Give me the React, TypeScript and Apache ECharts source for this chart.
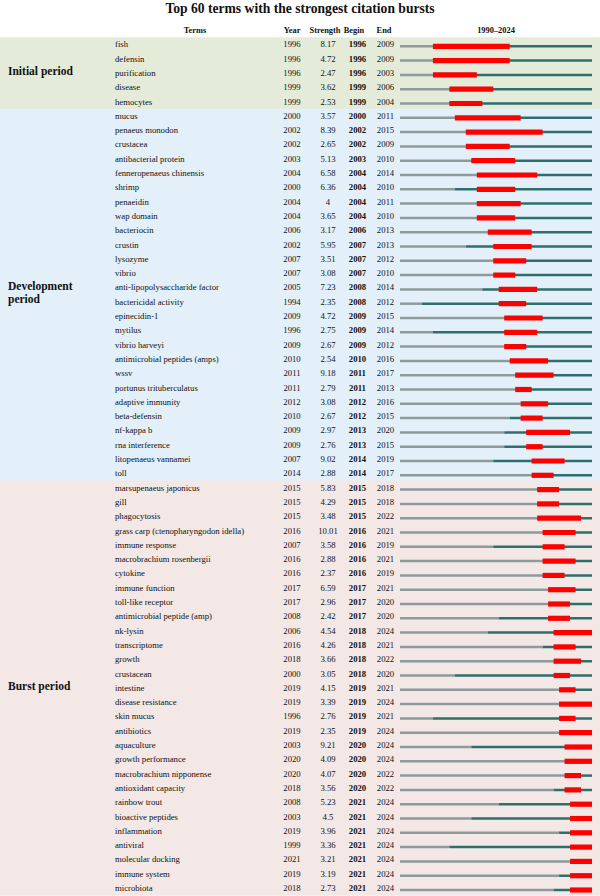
import React, { useEffect, useRef } from "react";
import * as echarts from "echarts";

const terms = [
  "fish", "defensin", "purification", "disease", "hemocytes",
  "mucus", "penaeus monodon", "crustacea", "antibacterial protein", "fenneropenaeus chinensis",
  "shrimp", "penaeidin", "wap domain", "bacteriocin", "crustin", "lysozyme", "vibrio",
  "anti-lipopolysaccharide factor", "bactericidal activity", "epinecidin-1", "mytilus",
  "vibrio harveyi", "antimicrobial peptides (amps)", "wssv", "portunus trituberculatus",
  "adaptive immunity", "beta-defensin", "nf-kappa b", "rna interference", "litopenaeus vannamei", "toll",
  "marsupenaeus japonicus", "gill", "phagocytosis", "grass carp (ctenopharyngodon idella)",
  "immune response", "macrobrachium rosenbergii", "cytokine", "immune function", "toll-like receptor",
  "antimicrobial peptide (amp)", "nk-lysin", "transcriptome", "growth", "crustacean", "intestine",
  "disease resistance", "skin mucus", "antibiotics", "aquaculture", "growth performance",
  "macrobrachium nipponense", "antioxidant capacity", "rainbow trout", "bioactive peptides",
  "inflammation", "antiviral", "molecular docking", "immune system", "microbiota",
];

const years = [
  1996, 1996, 1996, 1999, 1999,
  2000, 2002, 2002, 2003, 2004, 2000, 2004, 2004, 2006, 2002, 2007, 2007,
  2005, 1994, 2009, 1996, 2009, 2010, 2011, 2011, 2012, 2010, 2009, 2009, 2007, 2014,
  2015, 2015, 2015, 2016, 2007, 2016, 2016, 2017, 2017, 2008, 2006, 2016, 2018, 2000, 2019,
  2019, 1996, 2019, 2003, 2020, 2020, 2018, 2008, 2003, 2019, 1999, 2021, 2019, 2018,
];

const strengths = [
  8.17, 4.72, 2.47, 3.62, 2.53,
  3.57, 8.39, 2.65, 5.13, 6.58, 6.36, 4, 3.65, 3.17, 5.95, 3.51, 3.08,
  7.23, 2.35, 4.72, 2.75, 2.67, 2.54, 9.18, 2.79, 3.08, 2.67, 2.97, 2.76, 9.02, 2.88,
  5.83, 4.29, 3.48, 10.01, 3.58, 2.88, 2.37, 6.59, 2.96, 2.42, 4.54, 4.26, 3.66, 3.05, 4.15,
  3.39, 2.76, 2.35, 9.21, 4.09, 4.07, 3.56, 5.23, 4.5, 3.96, 3.36, 3.21, 3.19, 2.73,
];

const begins = [
  1996, 1996, 1996, 1999, 1999,
  2000, 2002, 2002, 2003, 2004, 2004, 2004, 2004, 2006, 2007, 2007, 2007,
  2008, 2008, 2009, 2009, 2009, 2010, 2011, 2011, 2012, 2012, 2013, 2013, 2014, 2014,
  2015, 2015, 2015, 2016, 2016, 2016, 2016, 2017, 2017, 2017, 2018, 2018, 2018, 2018, 2019,
  2019, 2019, 2019, 2020, 2020, 2020, 2020, 2021, 2021, 2021, 2021, 2021, 2021, 2021,
];

const ends = [
  2009, 2009, 2003, 2006, 2004,
  2011, 2015, 2009, 2010, 2014, 2010, 2011, 2010, 2013, 2013, 2012, 2010,
  2014, 2012, 2015, 2014, 2012, 2016, 2017, 2013, 2016, 2015, 2020, 2015, 2019, 2017,
  2018, 2018, 2022, 2021, 2019, 2021, 2019, 2021, 2020, 2020, 2024, 2021, 2022, 2020, 2021,
  2024, 2021, 2024, 2024, 2024, 2022, 2022, 2024, 2024, 2024, 2024, 2024, 2024, 2024,
];

const periodNames = ["Initial period", "Development period", "Burst period"];
const periodSizes = [5, 26, 29];
const headerLabels = ["Terms", "Year", "Strength", "Begin", "End"];
const timeRange = [1990, 2024];
const titleText = "Top 60 terms with the strongest citation bursts";

const FONT = "'Liberation Serif', 'Times New Roman', serif";
const TEXT = "#111111";
const BAND_COLORS = ["#e4ebd9", "#e3f0fa", "#f3e8e5"];
const GRAY = "#8e9b9c";
const TEAL = "#2e6f6d";
const RED = "#ff0000";

const ROW_H = 14.3;
const TOP = 37.15;
const GRID_H = ROW_H * terms.length;
const FS = 8.7;

// column layout: x position and alignment of each text column
const COL_X = [115, 292, 328, 357.5, 385.5];
const COL_ALIGN = ["left", "center", "center", "center", "center"];
const HEADER_X = [195, 292, 325, 354, 384];

function buildOption() {
  const periodStart: number[] = [];
  let acc = 0;
  periodSizes.forEach((s) => {
    periodStart.push(acc);
    acc += s;
  });

  const txt = (text: string, x: number, y: number, align: string, bold: boolean, size = FS) => ({
    type: "text",
    x,
    y,
    style: {
      text,
      fontFamily: FONT,
      fontSize: size,
      fontWeight: bold ? "bold" : "normal",
      fill: TEXT,
      align,
      verticalAlign: "middle",
    },
  });

  return {
    animation: false,
    backgroundColor: "#ffffff",
    title: {
      text: titleText,
      left: "center",
      top: 1,
      padding: 0,
      textStyle: { fontFamily: FONT, fontSize: 13.6, fontWeight: "bold", color: TEXT },
    },
    grid: [
      { left: 0, right: 0, top: TOP, height: GRID_H, outerBoundsMode: "none", containLabel: false },
      { left: 400, width: 192, top: TOP, height: GRID_H, outerBoundsMode: "none", containLabel: false },
    ],
    xAxis: [
      { gridIndex: 0, type: "value", min: 0, max: 600, show: false },
      { gridIndex: 1, type: "value", min: timeRange[0], max: timeRange[1] + 1, show: false },
    ],
    yAxis: [
      { gridIndex: 0, type: "category", data: terms, inverse: true, show: false },
      { gridIndex: 1, type: "category", data: terms, inverse: true, show: false },
    ],
    graphic: [
      ...headerLabels.map((h, k) => txt(h, HEADER_X[k], 30, "center", true, 8.4)),
      txt(`${timeRange[0]}–${timeRange[1]}`, 496, 30, "center", true, 8.4),
    ],
    series: [
      // period bands + period labels
      {
        type: "custom",
        xAxisIndex: 0,
        yAxisIndex: 0,
        z: 1,
        encode: { x: 0, y: 1 },
        data: periodNames.map((_n, p) => [0, periodStart[p], periodStart[p] + periodSizes[p] - 1, p]),
        renderItem: (params: any, api: any) => {
          const a = api.coord([0, api.value(1)])[1];
          const b = api.coord([0, api.value(2)])[1];
          const h = api.size([0, 1])[1];
          const p = api.value(3);
          const cs = params.coordSys;
          return {
            type: "group",
            children: [
              {
                type: "rect",
                shape: { x: cs.x, y: a - h / 2, width: cs.width, height: b - a + h + 0.6 },
                style: { fill: BAND_COLORS[p] },
              },
              {
                type: "text",
                x: cs.x + 8,
                y: (a + b) / 2 - 2,
                z2: 10,
                style: {
                  text: periodNames[p],
                  fontFamily: FONT,
                  fontSize: 11.5,
                  fontWeight: "bold",
                  fill: TEXT,
                  align: "left",
                  verticalAlign: "middle",
                  width: 95,
                  overflow: "break",
                  lineHeight: 13,
                },
              },
            ],
          };
        },
      },
      // table text
      {
        type: "custom",
        xAxisIndex: 0,
        yAxisIndex: 0,
        z: 3,
        encode: { x: 0, y: 1 },
        data: terms.map((_t, i) => [0, i]),
        renderItem: (_params: any, api: any) => {
          const i = api.value(1);
          const y = api.coord([0, i])[1];
          const vals = [terms[i], String(years[i]), String(strengths[i]), String(begins[i]), String(ends[i])];
          return {
            type: "group",
            children: vals.map((v, k) => txt(v, COL_X[k], y, COL_ALIGN[k], k === 3)),
          };
        },
      },
      // timeline bars
      {
        type: "custom",
        xAxisIndex: 1,
        yAxisIndex: 1,
        z: 4,
        encode: { x: [0, 1, 2], y: 3 },
        data: terms.map((_t, i) => [years[i], begins[i], ends[i], i]),
        renderItem: (_params: any, api: any) => {
          const yi = api.value(3);
          const base = api.coord([timeRange[0], yi]);
          const yc = base[1] + 2;
          const x0 = base[0];
          const xY = api.coord([api.value(0), yi])[0];
          const xEnd = api.coord([timeRange[1] + 1, yi])[0];
          const xb = api.coord([api.value(1), yi])[0];
          const xe = api.coord([api.value(2) + 1, yi])[0];
          return {
            type: "group",
            children: [
              { type: "rect", shape: { x: x0, y: yc - 1.25, width: xY - x0, height: 2.5 }, style: { fill: GRAY } },
              { type: "rect", shape: { x: xY, y: yc - 1.25, width: xEnd - xY, height: 2.5 }, style: { fill: TEAL } },
              { type: "rect", shape: { x: xb, y: yc - 2.6, width: xe - xb, height: 5.2 }, style: { fill: RED } },
            ],
          };
        },
      },
    ],
  };
}

export default function App() {
  const ref = useRef<HTMLDivElement>(null);
  useEffect(() => {
    if (!ref.current) return;
    const chart = echarts.init(ref.current, undefined, { renderer: "svg" });
    chart.setOption(buildOption() as any);
    return () => chart.dispose();
  }, []);
  return (
    <div
      ref={ref}
      style={{ position: "absolute", left: 0, top: 0, width: 600, height: 896 }}
    />
  );
}
